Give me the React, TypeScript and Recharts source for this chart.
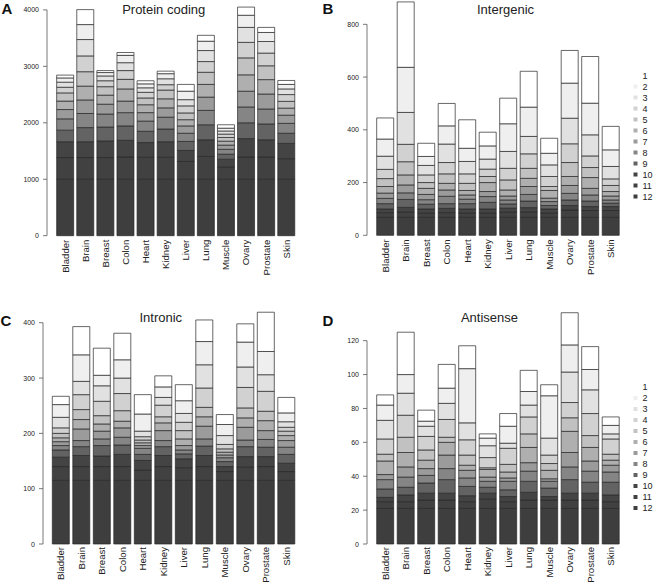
import React from "react";
import { BarChart, Bar, XAxis, YAxis } from "recharts";

const tissues = ["Bladder", "Brain", "Breast", "Colon", "Heart", "Kidney", "Liver", "Lung", "Muscle", "Ovary", "Prostate", "Skin"];

// stacking order bottom -> top
const stackLevels = [12, 11, 10, 9, 8, 7, 6, 5, 4, 3, 2, 1];
const legendLevels = [1, 2, 3, 4, 5, 6, 7, 8, 9, 10, 11, 12];
const levelColors: Record<number, string> = {
  1: "#ffffff", 2: "#efefef", 3: "#e1e1e1", 4: "#d1d1d1", 5: "#c1c1c1", 6: "#afafaf",
  7: "#9b9b9b", 8: "#858585", 9: "#636363", 10: "#444444", 11: "#414141", 12: "#3e3e3e",
};

// values per tissue, ordered level 12 (bottom) ... level 1 (top)
const proteinCoding = [
  [1000, 385, 280, 205, 200, 165, 150, 145, 100, 90, 75, 50],
  [1000, 385, 280, 250, 250, 240, 245, 255, 280, 290, 265, 265],
  [1000, 385, 295, 245, 230, 175, 160, 150, 105, 85, 60, 35],
  [1000, 395, 295, 255, 235, 205, 215, 170, 155, 140, 130, 50],
  [1000, 390, 260, 200, 180, 150, 140, 120, 100, 80, 70, 55],
  [1000, 390, 275, 225, 210, 165, 160, 155, 95, 105, 90, 45],
  [1000, 315, 195, 160, 145, 130, 110, 120, 125, 110, 150, 120],
  [1000, 405, 295, 265, 255, 235, 225, 215, 190, 195, 165, 105],
  [1000, 220, 135, 90, 85, 75, 70, 65, 60, 55, 50, 60],
  [1000, 395, 325, 280, 280, 280, 290, 300, 275, 265, 215, 145],
  [1000, 395, 305, 280, 265, 265, 255, 245, 225, 205, 160, 90],
  [1000, 365, 270, 180, 175, 145, 125, 120, 120, 100, 80, 70],
];
const intergenic = [
  [68, 18, 14, 20, 20, 20, 25, 30, 35, 50, 65, 80],
  [68, 20, 18, 30, 25, 30, 38, 50, 66, 121, 171, 248],
  [68, 17, 15, 18, 17, 20, 23, 22, 29, 36, 34, 50],
  [68, 18, 16, 18, 28, 24, 25, 36, 43, 70, 69, 85],
  [68, 17, 15, 20, 17, 16, 17, 27, 36, 47, 50, 108],
  [68, 17, 15, 25, 22, 19, 34, 23, 28, 38, 50, 52],
  [68, 20, 15, 16, 15, 15, 23, 38, 44, 64, 105, 97],
  [68, 20, 17, 25, 25, 30, 31, 38, 55, 66, 111, 136],
  [68, 17, 15, 13, 15, 13, 29, 15, 38, 44, 44, 57],
  [68, 28, 17, 21, 25, 30, 34, 53, 71, 97, 133, 124],
  [68, 26, 15, 21, 23, 25, 41, 38, 44, 80, 120, 177],
  [68, 26, 15, 13, 12, 15, 17, 23, 25, 47, 63, 89],
];
const intronic = [
  [115, 25, 17, 13, 8, 7, 7, 8, 10, 19, 23, 15],
  [115, 25, 20, 16, 11, 21, 17, 18, 27, 24, 48, 51],
  [115, 25, 19, 19, 12, 14, 13, 15, 26, 28, 19, 49],
  [115, 25, 22, 17, 14, 17, 12, 19, 31, 28, 33, 48],
  [115, 19, 17, 11, 11, 5, 5, 5, 6, 10, 31, 35],
  [115, 25, 20, 16, 11, 18, 14, 11, 21, 14, 19, 20],
  [115, 23, 16, 9, 7, 8, 12, 15, 15, 16, 23, 29],
  [115, 25, 20, 17, 13, 23, 17, 17, 35, 42, 42, 39],
  [115, 16, 9, 9, 7, 5, 5, 6, 8, 16, 20, 18],
  [115, 24, 19, 18, 12, 23, 17, 18, 37, 37, 45, 33],
  [115, 25, 18, 17, 14, 16, 18, 17, 36, 30, 42, 71],
  [115, 16, 15, 16, 13, 12, 9, 8, 7, 10, 16, 28],
];
const antisense = [
  [21, 4, 2.5, 5, 5.5, 3, 8, 4, 9, 11, 9, 6],
  [21, 4, 4, 4.5, 6, 6, 8.5, 9, 13, 13, 11, 25],
  [21, 5, 4, 6, 4.5, 4, 5, 6, 8, 6, 3, 6.5],
  [21, 5, 4, 8, 6.5, 8, 7.5, 3, 10.5, 9.5, 9, 14],
  [21, 4, 3.5, 5.5, 5, 4.5, 3, 6, 9, 10, 32, 13.5],
  [21, 5.5, 3.5, 3.5, 3.5, 2.5, 4.5, 1, 6, 7, 4.5, 2.5],
  [21, 4, 3, 4, 5, 2, 3.5, 4.5, 9.5, 3, 10, 7.5],
  [21, 5, 4.5, 6.5, 6, 5, 9, 8, 10, 7, 8, 12.5],
  [21, 5, 2, 5, 4, 1.5, 5, 4, 5, 10, 25, 6.5],
  [21, 5, 4, 8, 7.5, 8.5, 12.5, 8, 9, 18, 16, 19],
  [21, 5, 4, 6.5, 6.5, 6, 8, 7, 13, 14, 12, 13.5],
  [21, 4, 4, 7.5, 6, 4, 3, 3.5, 9, 3, 5, 5],
];

const ticksA = [0, 1000, 2000, 3000, 4000];
const ticksB = [0, 200, 400, 600, 800];
const ticksC = [0, 100, 200, 300, 400];
const ticksD = [0, 20, 40, 60, 80, 100, 120];

const FONT = "'Liberation Sans', Arial, Helvetica, sans-serif";

function buildRows(values: number[][]) {
  return tissues.map((t, i) => {
    const row: Record<string, any> = { tissue: t };
    stackLevels.forEach((lvl, k) => {
      row["l" + lvl] = values[i][k];
    });
    return row;
  });
}

function makeAxisTick(maxTick: number) {
  let y0: number | null = null;
  return (props: any) => {
    const { x, y, payload } = props;
    if (payload.value === 0) y0 = y;
    return (
      <g>
        <line x1={x} x2={x - 4} y1={y} y2={y} stroke="#555" strokeWidth={0.8} />
        {payload.value === maxTick && y0 !== null ? (
          <line x1={x} x2={x} y1={y} y2={y0} stroke="#555" strokeWidth={0.8} />
        ) : null}
        <text x={x - 8} y={y} textAnchor="end" dominantBaseline="central" fontSize={7} fill="#222" fontFamily={FONT}>
          {payload.value}
        </text>
      </g>
    );
  };
}

const XTick = (props: any) => {
  const { x, y, payload } = props;
  return (
    <text
      x={x}
      y={y}
      transform={`rotate(-90 ${x} ${y})`}
      textAnchor="end"
      dominantBaseline="central"
      fontSize={9.6}
      fill="#222"
      fontFamily={FONT}
    >
      {payload.value}
    </text>
  );
};

type PanelProps = {
  values: number[][];
  ticks: number[];
  domainMax: number;
  left: number;
  top: number;
  width: number;
  height: number;
  axisX: number;
  bandStart: number;
  bandEnd: number;
  plotTop: number;
  plotBottom: number;
  labelGap: number;
};

function Panel(p: PanelProps) {
  const data = buildRows(p.values);
  const tick = makeAxisTick(p.ticks[p.ticks.length - 1]);
  return (
    <div style={{ position: "absolute", left: p.left, top: p.top }}>
      <BarChart
        width={p.width}
        height={p.height}
        data={data}
        margin={{ top: p.plotTop, right: p.width - p.bandEnd, bottom: 0, left: 0 }}
        barCategoryGap="8.3%"
      >
        <XAxis
          dataKey="tissue"
          interval={0}
          tickLine={false}
          axisLine={false}
          tickSize={0}
          tickMargin={p.labelGap}
          height={p.height - p.plotBottom}
          padding={{ left: p.bandStart - p.axisX, right: 0 }}
          tick={XTick}
        />
        <YAxis
          type="number"
          domain={[0, p.domainMax]}
          ticks={p.ticks}
          width={p.axisX}
          axisLine={false}
          tickLine={false}
          tickSize={0}
          tickMargin={0}
          tick={tick}
          interval={0}
        />
        {stackLevels.map((lvl) => (
          <Bar
            key={lvl}
            dataKey={"l" + lvl}
            stackId="s"
            fill={levelColors[lvl]}
            stroke="#262626"
            strokeWidth={0.7}
            isAnimationActive={false}
          />
        ))}
      </BarChart>
    </div>
  );
}

function Legend({ x, yFirst, step }: { x: number; yFirst: number; step: number }) {
  return (
    <g>
      {legendLevels.map((lvl, i) => {
        const cy = yFirst + i * step;
        return (
          <g key={lvl}>
            <rect x={x} y={cy - 2} width={4} height={4} fill={levelColors[lvl]} />
            <text x={x + 9} y={cy} dominantBaseline="central" fontSize={9} fill="#222" fontFamily={FONT}>
              {lvl}
            </text>
          </g>
        );
      })}
    </g>
  );
}

export default function App() {
  return (
    <div style={{ position: "absolute", left: 0, top: 0, width: 654, height: 583, background: "#fff", overflow: "hidden" }}>
      <Panel values={proteinCoding} ticks={ticksA} domainMax={4140} left={0} top={0} width={327} height={290}
        axisX={47} bandStart={55} bandEnd={296.2} plotTop={2} plotBottom={235.7} labelGap={4} />
      <Panel values={intergenic} ticks={ticksB} domainMax={890} left={327} top={0} width={327} height={290}
        axisX={40} bandStart={48} bandEnd={294} plotTop={0.6} plotBottom={235.3} labelGap={4} />
      <Panel values={intronic} ticks={ticksC} domainMax={425} left={0} top={290} width={327} height={293}
        axisX={43} bandStart={50.6} bandEnd={296.6} plotTop={18.9} plotBottom={254} labelGap={3} />
      <Panel values={antisense} ticks={ticksD} domainMax={140} left={327} top={290} width={327} height={293}
        axisX={40} bandStart={48} bandEnd={294} plotTop={16.8} plotBottom={254} labelGap={3} />
      <svg width={654} height={583} style={{ position: "absolute", left: 0, top: 0, pointerEvents: "none" }}>
        <text x={1.5} y={14} fontSize={15} fontWeight="bold" fontFamily={FONT} fill="#111">A</text>
        <text x={322.5} y={14} fontSize={15} fontWeight="bold" fontFamily={FONT} fill="#111">B</text>
        <text x={0.5} y={326} fontSize={15} fontWeight="bold" fontFamily={FONT} fill="#111">C</text>
        <text x={322.5} y={325.5} fontSize={15} fontWeight="bold" fontFamily={FONT} fill="#111">D</text>
        <text x={163.7} y={13.5} textAnchor="middle" fontSize={13} fontFamily={FONT} fill="#222">Protein coding</text>
        <text x={505.5} y={13.5} textAnchor="middle" fontSize={13} fontFamily={FONT} fill="#222">Intergenic</text>
        <text x={160.8} y={321.5} textAnchor="middle" fontSize={13} fontFamily={FONT} fill="#222">Intronic</text>
        <text x={489.5} y={321.5} textAnchor="middle" fontSize={13} fontFamily={FONT} fill="#222">Antisense</text>
        <Legend x={633.5} yFirst={75.5} step={11} />
        <Legend x={633.5} yFirst={387} step={11} />
      </svg>
    </div>
  );
}
